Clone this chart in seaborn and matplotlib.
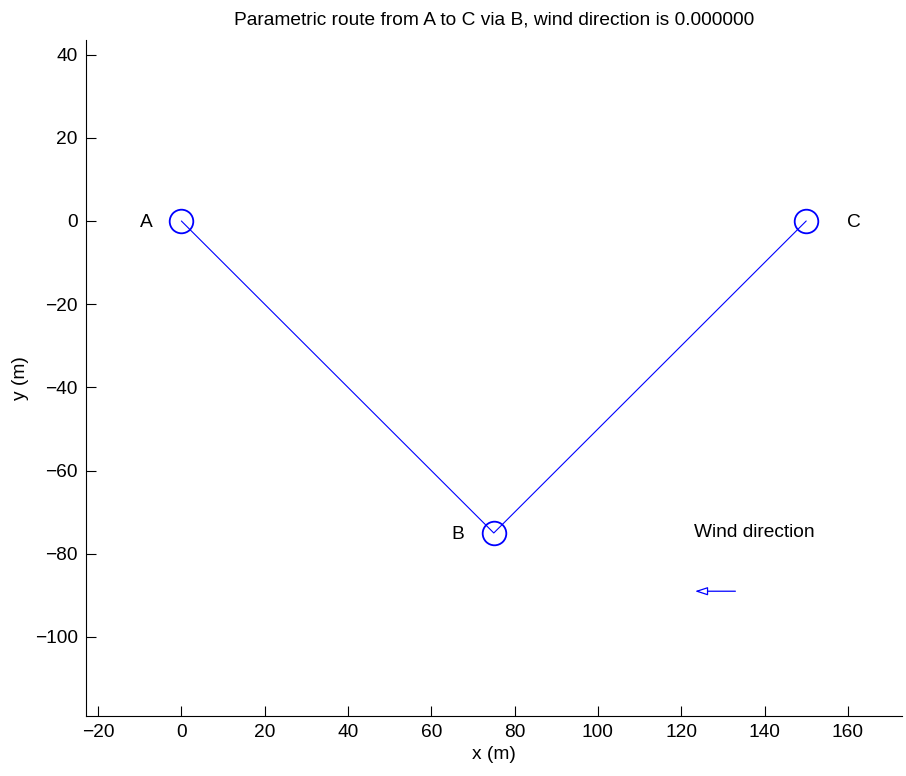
import matplotlib
matplotlib.use("Agg")
import matplotlib.pyplot as plt
import numpy as np
import pandas as pd
import seaborn as sns

# Waypoints of the route
waypoint_names = ["A", "B", "C"]
waypoint_x = [0, 75, 150]
waypoint_y = [0, -75, 0]

# Wind indicator
wind_direction = 0.0
wind_tail = (133.0, -89.0)
wind_length = 9.7

x_ticks = [-20, 0, 20, 40, 60, 80, 100, 120, 140, 160]
y_ticks = [-100, -80, -60, -40, -20, 0, 20, 40]

FS = 13.8

sns.set_style("ticks")
plt.rcParams["font.family"] = ["Liberation Sans", "DejaVu Sans"]
plt.rcParams["font.size"] = FS
plt.rcParams["text.color"] = "black"
plt.rcParams["axes.labelcolor"] = "black"
plt.rcParams["xtick.color"] = "black"
plt.rcParams["ytick.color"] = "black"
plt.rcParams["axes.edgecolor"] = "black"

fig = plt.figure(figsize=(9.06, 7.76), dpi=100)
ax = fig.add_axes([0.0949, 0.0773, 0.9007, 0.8711])

route = pd.DataFrame({"name": waypoint_names, "x": waypoint_x, "y": waypoint_y})
blue = (0, 0, 1)

sns.lineplot(data=route, x="x", y="y", sort=False, color=blue, linewidth=0.8, ax=ax)
ax.plot(route["x"], route["y"], linestyle="none", marker="o", markersize=17,
        markerfacecolor="none", markeredgecolor=blue, markeredgewidth=1.3)

# Waypoint labels
label_dx = {"A": -8.5, "B": -8.6, "C": 11.5}
for _, r in route.iterrows():
    ax.text(r["x"] + label_dx[r["name"]], r["y"], r["name"],
            ha="center", va="center_baseline", fontsize=FS, color="black")

# Wind arrow
theta = np.deg2rad(wind_direction)
tip = (wind_tail[0] - wind_length * np.cos(theta), wind_tail[1] - wind_length * np.sin(theta))
ax.annotate("", xy=tip, xytext=wind_tail,
            arrowprops=dict(arrowstyle="-|>,head_length=0.55,head_width=0.18",
                            fc="white", ec=blue, lw=0.9, shrinkA=0, shrinkB=0))
ax.text(123.0, -74.3, "Wind direction", ha="left", va="center_baseline",
        fontsize=FS, color="black")

ax.set_xlim(-22.9, 173.0)
ax.set_ylim(-119.0, 43.5)
ax.set_xticks(x_ticks)
ax.set_yticks(y_ticks)
ax.set_xticklabels([str(t).replace("-", "\u2212") for t in x_ticks])
ax.set_yticklabels([str(t).replace("-", "\u2212") for t in y_ticks])
ax.tick_params(direction="in", length=7, width=0.8, labelsize=FS, pad=6)
for side in ["top", "right"]:
    ax.spines[side].set_visible(False)
for side in ["left", "bottom"]:
    ax.spines[side].set_linewidth(0.8)

ax.set_xlabel("x (m)", fontsize=FS, labelpad=3)
ax.set_ylabel("y (m)", fontsize=FS, labelpad=4)
ax.set_title("Parametric route from A to C via B, wind direction is %f" % wind_direction,
             fontsize=FS, pad=11)

fig.savefig("out.png", dpi=100)
